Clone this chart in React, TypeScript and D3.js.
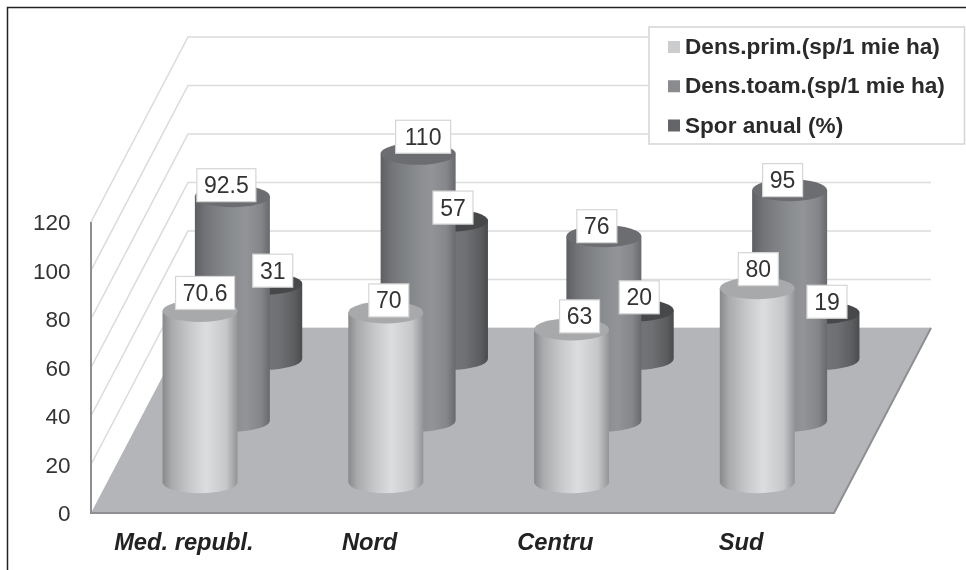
import React, { useEffect, useRef } from "react";
import * as d3 from "d3";

const categories = ["Med. republ.", "Nord", "Centru", "Sud"];
const seriesNames = [
  "Dens.prim.(sp/1 mie ha)",
  "Dens.toam.(sp/1 mie ha)",
  "Spor anual (%)",
];
const densPrim = [70.6, 70, 63, 80];
const densToam = [92.5, 110, 76, 95];
const sporAnual = [31, 57, 20, 19];
const valueLabels = [
  ["70.6", "70", "63", "80"],
  ["92.5", "110", "76", "95"],
  ["31", "57", "20", "19"],
];
const yTicks = [0, 20, 40, 60, 80, 100, 120];

// label box nudges from the top of each cylinder, the original places them by hand
const labelNudge = [
  [[5, -18], [3, -12], [8, -13], [1, -19]],
  [[-6, -11], [5, -17], [-7, -10], [-7, -10]],
  [[8, -13], [2.5, -13], [3, -13], [5, -11]],
];

const looks = [
  {
    top: "#a8a9ab",
    swatch: "#cbccce",
    stops: [[0, "#88898b"], [0.12, "#a9aaac"], [0.35, "#c6c7c9"], [0.58, "#dcddde"], [0.85, "#c6c7c9"], [1, "#939496"]],
  },
  {
    top: "#6c6d70",
    swatch: "#8a8b8e",
    stops: [[0, "#5e5f62"], [0.15, "#737478"], [0.45, "#878a8d"], [0.68, "#939498"], [0.88, "#85868a"], [1, "#68696c"]],
  },
  {
    top: "#47484a",
    swatch: "#646568",
    stops: [[0, "#4c4d4f"], [0.2, "#5e5e61"], [0.55, "#737477"], [0.7, "#6f7073"], [0.9, "#5c5d5f"], [1, "#4a4b4d"]],
  },
];

export default function App() {
  const svgRef = useRef<SVGSVGElement>(null);

  useEffect(() => {
    const svg = d3.select(svgRef.current);
    svg.selectAll("*").remove();

    const left = 91;
    const right = 834;
    const bottom = 513;
    const top = 222;
    const depthX = 97;
    const depthY = 185;
    const rx = 37.5;
    const ry = 11;
    const font = "'Liberation Sans', Arial, sans-serif";

    const values = [densPrim, densToam, sporAnual];
    const x = d3.scaleBand().domain(categories).range([left, right]);
    const y = d3.scaleLinear().domain([0, 120]).range([bottom, top]);
    // 0 is the front of the floor, 1 is the back wall
    const z = d3.scaleBand().domain(seriesNames).range([0, 1]);
    const zMid = (name: string) => z(name)! + z.bandwidth() / 2;

    const defs = svg.append("defs");
    looks.forEach((look, i) => {
      const grad = defs.append("linearGradient").attr("id", `cyl${i}`);
      look.stops.forEach((s) => {
        grad.append("stop").attr("offset", s[0]).attr("stop-color", s[1]);
      });
    });

    // outer frame, only top and left survive in the scan
    svg
      .append("path")
      .attr("d", "M7.5,570V7.5H966")
      .attr("fill", "none")
      .attr("stroke", "#222")
      .attr("stroke-width", 1.5);

    // gridlines on the side and back walls
    const wall = svg.append("g").attr("fill", "none").attr("stroke", "#dcdcdc").attr("stroke-width", 1.6);
    yTicks.slice(1).forEach((t) => {
      wall
        .append("path")
        .attr(
          "d",
          d3.line()([
            [left, y(t)],
            [left + depthX, y(t) - depthY],
            [right + depthX, y(t) - depthY],
          ])
        );
    });
    wall
      .append("line")
      .attr("x1", left + depthX)
      .attr("x2", right + depthX)
      .attr("y1", bottom - depthY)
      .attr("y2", bottom - depthY);

    // floor
    svg
      .append("path")
      .attr(
        "d",
        d3.line()([
          [left, bottom],
          [left + depthX, bottom - depthY],
          [right + depthX, bottom - depthY],
          [right, bottom],
        ]) + "Z"
      )
      .attr("fill", "#b4b5b8");
    svg
      .append("path")
      .attr(
        "d",
        d3.line()([
          [left, top],
          [left, bottom],
          [right, bottom],
          [right + depthX, bottom - depthY],
        ])
      )
      .attr("fill", "none")
      .attr("stroke", "#8e8f92")
      .attr("stroke-width", 2);

    // cylinders, back row first
    const bars = svg.append("g");
    [2, 1, 0].forEach((s) => {
      const t = zMid(seriesNames[s]);
      categories.forEach((c, i) => {
        const cx = x(c)! + x.bandwidth() / 2 + t * depthX;
        const base = bottom - t * depthY;
        const h = bottom - y(values[s][i]);
        const topY = base - h;
        bars
          .append("path")
          .attr(
            "d",
            `M${cx - rx},${topY}V${base}A${rx},${ry} 0 0 0 ${cx + rx},${base}V${topY}Z`
          )
          .attr("fill", `url(#cyl${s})`);
        bars
          .append("ellipse")
          .attr("cx", cx)
          .attr("cy", topY)
          .attr("rx", rx)
          .attr("ry", ry)
          .attr("fill", looks[s].top);
      });
    });

    // data labels
    const labels = svg.append("g");
    [2, 1, 0].forEach((s) => {
      const t = zMid(seriesNames[s]);
      categories.forEach((c, i) => {
        const cx = x(c)! + x.bandwidth() / 2 + t * depthX;
        const topY = bottom - t * depthY - (bottom - y(values[s][i]));
        const lx = cx + labelNudge[s][i][0];
        const ly = topY + labelNudge[s][i][1];
        const txt = valueLabels[s][i];
        const w = txt.length > 2 ? 59 : 40;
        labels
          .append("rect")
          .attr("x", lx - (txt === "110" ? 27.5 : w / 2))
          .attr("y", ly - 16.5)
          .attr("width", txt === "110" ? 55 : w)
          .attr("height", 33)
          .attr("fill", "#fff")
          .attr("stroke", "#d5d5d5")
          .attr("stroke-width", 1.2);
        labels
          .append("text")
          .attr("x", lx)
          .attr("y", ly + 8)
          .attr("text-anchor", "middle")
          .attr("font-family", font)
          .attr("font-size", 23)
          .attr("fill", "#333")
          .text(txt);
      });
    });

    // value axis labels
    svg
      .append("g")
      .selectAll("text")
      .data(yTicks)
      .join("text")
      .attr("x", 70.5)
      .attr("y", (d) => y(d) + 8)
      .attr("text-anchor", "end")
      .attr("font-family", font)
      .attr("font-size", 22.5)
      .attr("fill", "#333")
      .text((d) => d);

    // category labels
    svg
      .append("g")
      .selectAll("text")
      .data(categories)
      .join("text")
      .attr("x", (d) => x(d)! + x.bandwidth() / 2)
      .attr("y", 550)
      .attr("text-anchor", "middle")
      .attr("font-family", font)
      .attr("font-size", 23.7)
      .attr("font-weight", "bold")
      .attr("font-style", "italic")
      .attr("fill", "#222")
      .text((d) => d);

    // legend
    const legend = svg.append("g");
    legend
      .append("rect")
      .attr("x", 649)
      .attr("y", 27)
      .attr("width", 315.5)
      .attr("height", 117)
      .attr("fill", "#fff")
      .attr("stroke", "#d5d5d5")
      .attr("stroke-width", 1.5);
    const rowY = d3.scalePoint().domain(seriesNames).range([47, 125.5]);
    seriesNames.forEach((name, i) => {
      legend
        .append("rect")
        .attr("x", 668)
        .attr("y", rowY(name)! - 6)
        .attr("width", 12)
        .attr("height", 12)
        .attr("fill", looks[i].swatch);
      legend
        .append("text")
        .attr("x", 685)
        .attr("y", rowY(name)! + 7)
        .attr("font-family", font)
        .attr("font-size", 22.6)
        .attr("font-weight", "bold")
        .attr("fill", "#2a2a2a")
        .text(name);
    });
  }, []);

  return (
    <svg
      ref={svgRef}
      width={966}
      height={570}
      style={{ position: "absolute", left: 0, top: 0, background: "#fff", filter: "blur(0.5px)" }}
    ></svg>
  );
}
